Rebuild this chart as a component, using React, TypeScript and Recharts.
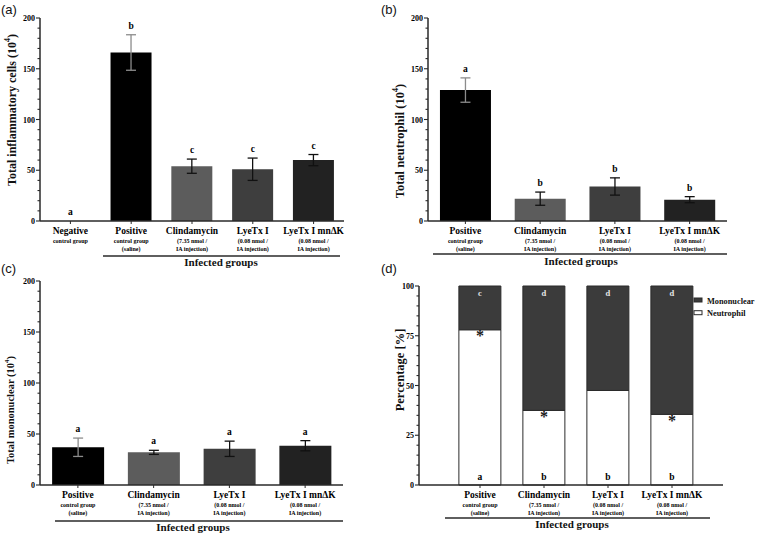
import React from "react";
import {
  ComposedChart,
  BarChart,
  Bar,
  Line,
  XAxis,
  YAxis,
  ErrorBar,
  LabelList,
  Cell,
  Label,
} from "recharts";

const SERIF = '"Liberation Serif", "Times New Roman", serif';
const SANS = '"Liberation Sans", Arial, sans-serif';
const AXIS = "#2a2a2a";

// group names and the small notes printed under them
const GROUP_NAMES = ["Negative", "Positive", "Clindamycin", "LyeTx I", "LyeTx I mn\u0394K"];
const GROUP_NOTES = [
  ["control group"],
  ["control group", "(saline)"],
  ["(7.35 nmol /", "IA injection)"],
  ["(0.08 nmol /", "IA injection)"],
  ["(0.08 nmol /", "IA injection)"],
];
const GROUP_COLORS = ["#000000", "#000000", "#5c5c5c", "#3e3e3e", "#222222"];
const INFECTED = GROUP_NAMES.slice(1);

// (a) total inflammatory cells (10^4)
const TOTAL_CELLS = [0, 166, 54, 51, 60];
const TOTAL_CELLS_ERR = [0, 17.5, 7, 11, 5.5];
const TOTAL_CELLS_LETTERS = ["a", "b", "c", "c", "c"];

// (b) total neutrophil (10^4)
const NEUTROPHIL = [129, 22, 34, 21];
const NEUTROPHIL_ERR = [12, 6.5, 8.5, 3];
const NEUTROPHIL_LETTERS = ["a", "b", "b", "b"];

// (c) total mononuclear (10^4)
const MONONUCLEAR = [37, 32, 35.5, 38.5];
const MONONUCLEAR_ERR = [9, 2, 7.5, 5];
const MONONUCLEAR_LETTERS = ["a", "a", "a", "a"];

// (d) percentage
const NEUTROPHIL_PCT = [78, 37.5, 47.5, 35.5];
const MONONUCLEAR_PCT = [22, 62.5, 52.5, 64.5];
const NEUTROPHIL_PCT_LETTERS = ["a", "b", "b", "b"];
const MONONUCLEAR_PCT_LETTERS = ["c", "d", "d", "d"];
const PCT_STARS = ["*", "*", "", "*"];

const COUNT_MAJOR = [0, 50, 100, 150, 200];
const PCT_MAJOR = [0, 25, 50, 75, 100];

function withMinor(major: number[], step: number) {
  const out: number[] = [];
  for (let v = major[0]; v <= major[major.length - 1]; v += step) out.push(v);
  return out;
}

function countRows(names: string[], values: number[], errs: number[], letters: string[]) {
  return names.map((name, i) => {
    const g = GROUP_NAMES.indexOf(name);
    return {
      name,
      value: values[i],
      color: GROUP_COLORS[g],
      errLight: name === "Positive" ? errs[i] : undefined,
      errDark: name === "Positive" ? undefined : errs[i],
      labelAt: values[i] + errs[i],
      letter: letters[i],
    };
  });
}

const rowsA = countRows(GROUP_NAMES, TOTAL_CELLS, TOTAL_CELLS_ERR, TOTAL_CELLS_LETTERS);
const rowsB = countRows(INFECTED, NEUTROPHIL, NEUTROPHIL_ERR, NEUTROPHIL_LETTERS);
const rowsC = countRows(INFECTED, MONONUCLEAR, MONONUCLEAR_ERR, MONONUCLEAR_LETTERS);
const rowsD = INFECTED.map((name, i) => ({
  name,
  neutrophil: NEUTROPHIL_PCT[i],
  mononuclear: MONONUCLEAR_PCT[i],
  nLetter: NEUTROPHIL_PCT_LETTERS[i],
  mLetter: MONONUCLEAR_PCT_LETTERS[i],
  star: PCT_STARS[i],
}));

function GroupTick(props: any) {
  const { x, y, payload } = props;
  const notes = GROUP_NOTES[GROUP_NAMES.indexOf(payload.value)] || [];
  return (
    <g fontFamily={SERIF} fontWeight="bold" fill="#000" textAnchor="middle">
      <text x={x} y={y + 10} fontSize={9.5}>
        {payload.value}
      </text>
      {notes.map((n: string, i: number) => (
        <text key={i} x={x} y={y + 18.5 + i * 8} fontSize={6}>
          {n}
        </text>
      ))}
    </g>
  );
}

function ValueTick(props: any) {
  const { x, y, payload, major } = props;
  const isMajor = major.includes(payload.value);
  return (
    <g>
      <line x1={x - (isMajor ? 4 : 2.5)} x2={x} y1={y} y2={y} stroke={AXIS} strokeWidth={1.1} />
      {isMajor && (
        <text
          x={x - 5}
          y={y + 3}
          textAnchor="end"
          fontSize={8}
          fontWeight="bold"
          fontFamily={SERIF}
          fill="#000"
        >
          {payload.value}
        </text>
      )}
    </g>
  );
}

function AxisTitle({ x, y, size, text, sup }: any) {
  return (
    <text
      transform={`translate(${x},${y}) rotate(-90)`}
      textAnchor="middle"
      dominantBaseline="central"
      fontSize={size}
      fontWeight="bold"
      fontFamily={SERIF}
      fill="#111"
    >
      <tspan>{text}</tspan>
      {sup && (
        <>
          <tspan fontSize={size * 0.65} dy={-size * 0.4}>
            {sup}
          </tspan>
          <tspan dy={size * 0.4}>)</tspan>
        </>
      )}
    </text>
  );
}

function CountPanel({ rows, box, margin, yWidth, title }: any) {
  return (
    <div style={{ position: "absolute", left: box[0], top: box[1] }}>
      <ComposedChart width={box[2]} height={box[3]} data={rows} margin={margin} barCategoryGap="16%">
        <XAxis
          dataKey="name"
          interval={0}
          height={49}
          tickSize={3}
          tickMargin={0}
          axisLine={{ stroke: AXIS, strokeWidth: 1.5 }}
          tickLine={{ stroke: AXIS }}
          tick={<GroupTick />}
        />
        <YAxis
          width={yWidth}
          domain={[0, 200]}
          ticks={withMinor(COUNT_MAJOR, 10)}
          interval={0}
          tickSize={0}
          tickMargin={0}
          tickLine={false}
          axisLine={{ stroke: AXIS, strokeWidth: 1.5 }}
          tick={<ValueTick major={COUNT_MAJOR} />}
        >
          <Label content={() => <AxisTitle {...title} />} />
        </YAxis>
        <Bar dataKey="value" isAnimationActive={false}>
          {rows.map((r: any) => (
            <Cell key={r.name} fill={r.color} />
          ))}
          <ErrorBar dataKey="errLight" width={5} stroke="#8c8c8c" strokeWidth={1.3} />
          <ErrorBar dataKey="errDark" width={5} stroke="#111" strokeWidth={1.3} />
        </Bar>
        <Line dataKey="labelAt" stroke="none" dot={false} activeDot={false} isAnimationActive={false}>
          <LabelList
            dataKey="letter"
            position="top"
            offset={6}
            fontSize={9.5}
            fontWeight="bold"
            fontFamily={SERIF}
            fill="#000"
          />
        </Line>
      </ComposedChart>
    </div>
  );
}

function PercentPanel() {
  return (
    <div style={{ position: "absolute", left: 380, top: 262 }}>
      <BarChart
        width={379}
        height={272}
        data={rowsD}
        margin={{ top: 24, right: 36, bottom: 0, left: 0 }}
        barCategoryGap="17%"
      >
        <XAxis
          dataKey="name"
          interval={0}
          height={49}
          padding={{ left: 29, right: 19 }}
          tickSize={3}
          tickMargin={0}
          axisLine={{ stroke: AXIS, strokeWidth: 1.5 }}
          tickLine={{ stroke: AXIS }}
          tick={<GroupTick />}
        />
        <YAxis
          width={39}
          domain={[0, 100]}
          ticks={withMinor(PCT_MAJOR, 5)}
          interval={0}
          tickSize={0}
          tickMargin={0}
          tickLine={false}
          axisLine={{ stroke: AXIS, strokeWidth: 1.5 }}
          tick={<ValueTick major={PCT_MAJOR} />}
        >
          <Label content={() => <AxisTitle x={20} y={108} size={12.5} text="Percentage [%]" />} />
        </YAxis>
        <Bar dataKey="neutrophil" stackId="p" fill="#ffffff" stroke="#2b2b2b" strokeWidth={1} isAnimationActive={false}>
          <LabelList dataKey="nLetter" position="insideBottom" offset={5} fontSize={9.5} fontWeight="bold" fontFamily={SERIF} fill="#000" />
          <LabelList dataKey="star" position="insideTop" offset={0} fontSize={16} fontWeight="bold" fontFamily={SERIF} fill="#1a1a1a" />
        </Bar>
        <Bar dataKey="mononuclear" stackId="p" fill="#3b3b3b" stroke="#2b2b2b" strokeWidth={1} isAnimationActive={false}>
          <LabelList dataKey="mLetter" position="insideTop" offset={4} fontSize={8.5} fontWeight="bold" fontFamily={SERIF} fill="#e6e6e6" />
        </Bar>
      </BarChart>
    </div>
  );
}

const LEGEND_ITEMS = [
  { name: "Mononuclear", fill: "#3b3b3b" },
  { name: "Neutrophil", fill: "#ffffff" },
];

const BRACKETS = [
  { x1: 103, x2: 340, y: 256, tx: 221, ty: 266 },
  { x1: 433, x2: 727, y: 254, tx: 581, ty: 265 },
  { x1: 55, x2: 343, y: 521, tx: 193, ty: 531 },
  { x1: 445, x2: 710, y: 518, tx: 572, ty: 528 },
];

const PANEL_TAGS = [
  { t: "(a)", x: 1, y: 14 },
  { t: "(b)", x: 381, y: 14 },
  { t: "(c)", x: 1, y: 273 },
  { t: "(d)", x: 381, y: 273 },
];

function Overlay() {
  return (
    <svg width={759} height={534} style={{ position: "absolute", left: 0, top: 0, pointerEvents: "none" }}>
      {PANEL_TAGS.map((p) => (
        <text key={p.t} x={p.x} y={p.y} fontSize={13} fontFamily={SANS} fill="#111">
          {p.t}
        </text>
      ))}
      {BRACKETS.map((b, i) => (
        <g key={i}>
          <line x1={b.x1} x2={b.x2} y1={b.y} y2={b.y} stroke={AXIS} strokeWidth={1.4} />
          <text x={b.tx} y={b.ty} textAnchor="middle" fontSize={11} fontWeight="bold" fontFamily={SERIF} fill="#111">
            Infected groups
          </text>
        </g>
      ))}
      {LEGEND_ITEMS.map((it, i) => (
        <g key={it.name}>
          <rect x={694} y={298 + i * 12.7} width={8} height={4} fill={it.fill} stroke="#2b2b2b" strokeWidth={1} />
          <text x={707} y={303.5 + i * 12.7} fontSize={8.3} fontWeight="bold" fontFamily={SERIF} fill="#111">
            {it.name}
          </text>
        </g>
      ))}
    </svg>
  );
}

export default function App() {
  return (
    <div style={{ position: "absolute", left: 0, top: 0, width: 759, height: 534, background: "#fff" }}>
      <CountPanel
        rows={rowsA}
        box={[0, 0, 380, 270]}
        margin={{ top: 18, right: 36, bottom: 0, left: 0 }}
        yWidth={40}
        title={{ x: 12, y: 110, size: 12, text: "Total inflammatory cells (10", sup: "4" }}
      />
      <CountPanel
        rows={rowsB}
        box={[380, 0, 379, 270]}
        margin={{ top: 18, right: 32, bottom: 0, left: 0 }}
        yWidth={48}
        title={{ x: 20, y: 141, size: 12.5, text: "Total neutrophil (10", sup: "4" }}
      />
      <CountPanel
        rows={rowsC}
        box={[0, 262, 380, 272]}
        margin={{ top: 19, right: 37, bottom: 0, left: 0 }}
        yWidth={40}
        title={{ x: 10, y: 148, size: 10.5, text: "Total mononuclear (10", sup: "4" }}
      />
      <PercentPanel />
      <Overlay />
    </div>
  );
}
